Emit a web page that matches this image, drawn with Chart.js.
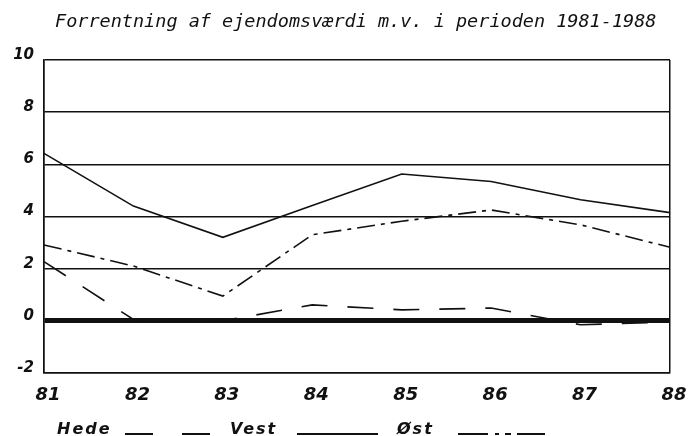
<!DOCTYPE html>
<html>
<head>
<meta charset="utf-8">
<script src="https://cdn.jsdelivr.net/npm/chart.js@4"></script>
<style>
    body { margin: 0; background: #fff; }
    #wrap { position: relative; width: 689px; height: 436px; }
    #titel {
        position: absolute; left: 55px; top: 10px;
        font: italic 18.5px "DejaVu Sans Mono", monospace; color: #111;
        white-space: nowrap;
    }
    .leg {
        position: absolute; top: 419px;
        font: italic bold 16px "DejaVu Sans", sans-serif; color: #111;
        letter-spacing: 2px; white-space: nowrap;
    }
    .streg { position: absolute; top: 433px; height: 2px; }
</style>
</head>
<body>
<div id="wrap">
    <canvas id="graf" width="689" height="436"></canvas>
    <div id="titel">Forrentning af ejendomsværdi m.v. i perioden 1981-1988</div>
    <div class="leg" style="left:57px">Hede</div>
    <div class="streg" style="left:125px;width:28px;background:#111"></div>
    <div class="streg" style="left:182px;width:28px;background:#111"></div>
    <div class="leg" style="left:230px">Vest</div>
    <div class="streg" style="left:297px;width:81px;background:#111"></div>
    <div class="leg" style="left:397px">Øst</div>
    <div class="streg" style="left:458px;width:87px;background:linear-gradient(90deg,#111 0 35%,transparent 35% 42%,#111 42% 47%,transparent 47% 54%,#111 54% 61%,transparent 61% 68%,#111 68% 100%)"></div>
</div>
<script>
    const aar = ['81', '82', '83', '84', '85', '86', '87', '88'];
    const hede = [2.27, 0.05, 0.0, 0.61, 0.42, 0.49, -0.15, -0.05];
    const vest = [6.42, 4.4, 3.2, 4.42, 5.63, 5.34, 4.64, 4.15];
    const oest = [2.91, 2.1, 0.95, 3.3, 3.82, 4.25, 3.68, 2.82];
    const yMin = -2;
    const yMax = 10;

    const sort = '#111';

    new Chart(document.getElementById('graf'), {
        type: 'line',
        data: {
            labels: aar,
            datasets: [
                {
                    label: 'Hede',
                    data: hede,
                    borderColor: sort,
                    borderWidth: 1.6,
                    borderDash: [26, 20],
                    pointRadius: 0,
                    tension: 0
                },
                {
                    label: 'Vest',
                    data: vest,
                    borderColor: sort,
                    borderWidth: 1.6,
                    pointRadius: 0,
                    tension: 0
                },
                {
                    label: 'Øst',
                    data: oest,
                    borderColor: sort,
                    borderWidth: 1.6,
                    borderDash: [18, 6, 4, 6],
                    pointRadius: 0,
                    tension: 0
                }
            ]
        },
        options: {
            responsive: false,
            animation: false,
            layout: { padding: { top: 60, right: 19, bottom: 33, left: 0 } },
            plugins: {
                legend: { display: false },
                tooltip: { enabled: false }
            },
            scales: {
                x: {
                    // fast hoejde, og ingen ekstra plads til "88" i hoejre side
                    afterFit: s => { s.height = 30; s.paddingLeft = 0; s.paddingRight = 0; },
                    border: { display: true, color: sort, width: 1.5 },
                    grid: {
                        drawTicks: false,
                        color: c => (c.index === 0 || c.index === aar.length - 1) ? sort : 'transparent',
                        lineWidth: 1.5
                    },
                    ticks: {
                        padding: 12,
                        labelOffset: 4,
                        maxRotation: 0,
                        color: sort,
                        font: { family: 'DejaVu Sans', style: 'italic', weight: 'bold', size: 18 }
                    }
                },
                y: {
                    min: yMin,
                    max: yMax,
                    afterFit: s => { s.width = 44; s.paddingTop = 0; s.paddingBottom = 0; },
                    border: { display: true, color: sort, width: 1.5 },
                    grid: {
                        drawTicks: false,
                        color: sort,
                        lineWidth: c => c.tick.value === 0 ? 5 : 1.5
                    },
                    ticks: {
                        stepSize: 2,
                        padding: 10,
                        labelOffset: -5,
                        color: sort,
                        font: { family: 'DejaVu Sans', style: 'italic', weight: 'bold', size: 15 }
                    }
                }
            }
        }
    });
</script>
</body>
</html>
